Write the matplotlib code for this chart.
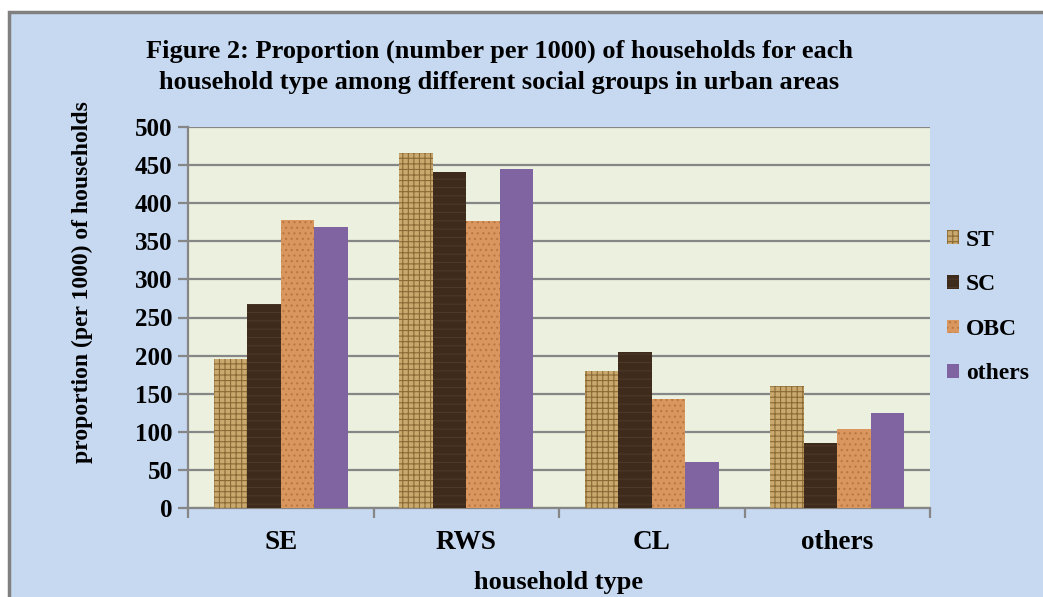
import matplotlib.pyplot as plt
import matplotlib.patches as mpatches
import numpy as np

categories = ['SE', 'RWS', 'CL', 'others']
groups = ['ST', 'SC', 'OBC', 'others']
st = [195, 466, 180, 160]
sc = [268, 441, 205, 85]
obc = [378, 377, 143, 104]
oth = [369, 445, 60, 125]
yticks = [0, 50, 100, 150, 200, 250, 300, 350, 400, 450, 500]

plt.rcParams['font.family'] = ['Liberation Serif', 'DejaVu Serif']
plt.rcParams['font.weight'] = 'bold'
plt.rcParams['hatch.linewidth'] = 0.8

fig = plt.figure(figsize=(10.43, 5.97), dpi=100, facecolor='white')
# blue chart area with grey border
bg = mpatches.Rectangle((9 / 1043, -0.05), 1.1, 1 - 12 / 597 + 0.05, transform=fig.transFigure,
                        facecolor='#C6D9F1', edgecolor='#808080', linewidth=2.5, zorder=-10)
fig.patches.append(bg)

ax = fig.add_axes([188 / 1043, 89 / 597, 742 / 1043, 381 / 597])
ax.set_facecolor('#EBF1DE')

x = np.arange(len(categories))
w = 0.18
styles = [
    dict(color='#C9A96E', edgecolor='#8C6A35', hatch='+++'),
    dict(color='#3F2B1C', edgecolor='#4E3828', hatch='--'),
    dict(color='#D9965E', edgecolor='#B9773F', hatch='...'),
    dict(color='#8064A2', edgecolor='#8064A2', hatch=None),
]
series = [st, sc, obc, oth]
handles = []
for i, (vals, st_) in enumerate(zip(series, styles)):
    b = ax.bar(x + (i - 1.5) * w, vals, w, color=st_['color'], edgecolor=st_['edgecolor'],
               hatch=st_['hatch'], linewidth=0, zorder=3, label=groups[i])
    handles.append(b)

ax.set_xlim(-0.5, 3.5)
ax.set_ylim(0, 500)
ax.set_yticks(yticks)
ax.yaxis.grid(True, color='#868686', linewidth=1.6, zorder=0)
ax.set_axisbelow(True)
ax.set_xticks(x)
ax.set_xticklabels(categories, fontsize=19.5, fontweight='bold')
ax.set_xticks(np.arange(-0.5, 4, 1), minor=True)
ax.tick_params(axis='x', which='major', length=0, pad=16)
ax.tick_params(axis='x', which='minor', length=7, width=1.6, color='#868686')
ax.tick_params(axis='y', length=7, width=1.6, color='#868686', labelsize=18, pad=4)
for lab in ax.get_yticklabels():
    lab.set_fontweight('bold')

for s in ['top', 'right']:
    ax.spines[s].set_visible(False)
for s in ['left', 'bottom']:
    ax.spines[s].set_color('#868686')
    ax.spines[s].set_linewidth(1.6)

ax.set_xlabel('household type', fontsize=19, fontweight='bold', labelpad=11)
ax.set_ylabel('proportion (per 1000) of households', fontsize=17, fontweight='bold')
ax.yaxis.set_label_coords(-0.128, 0.593)

fig.text(499 / 1043, 1 - 67 / 597,
         'Figure 2: Proportion (number per 1000) of households for each\n'
         'household type among different social groups in urban areas',
         ha='center', va='center', fontsize=19, fontweight='bold', linespacing=1.42)

ax.legend(handles=handles, loc='center left', bbox_to_anchor=(926 / 1043, 1 - 307 / 597),
          bbox_transform=fig.transFigure, frameon=False, fontsize=17,
          handlelength=0.5, handleheight=0.5, handletextpad=0.3, labelspacing=1.0)

fig.savefig('out.png', dpi=100, facecolor=fig.get_facecolor())
